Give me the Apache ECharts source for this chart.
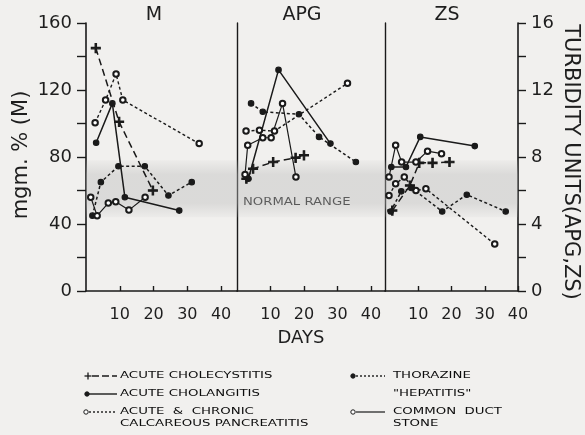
<!DOCTYPE html>
<html>
<head>
<meta charset="utf-8">
<script src="https://cdn.jsdelivr.net/npm/echarts@6/dist/echarts.min.js"></script>
<style>
  html, body { margin: 0; padding: 0; background: #f1f0ee; }
  #chart { width: 585px; height: 435px; }
</style>
</head>
<body>
<div id="chart"></div>
<script>
// Tick values
const dayTicks = [10, 20, 30, 40];
const panelTitles = ['M', 'APG', 'ZS'];
const normalRangeM = [44, 78];       // mgm. %
const normalRangeT = [4.4, 7.8];     // turbidity units

// M panel (mgm. %) — [day, value]
const cholecystitisM = [[2.9, 145], [9.8, 101], [19.8, 60]];
const cholangitisM   = [[3.0, 88.5], [7.8, 112], [11.5, 56], [27.6, 48]];
const pancreatitisM  = [[2.7, 100.5], [5.8, 114], [8.9, 129.5], [10.9, 114], [33.5, 88]];
const thorazineM     = [[1.9, 45], [4.4, 65], [9.6, 74.5], [17.4, 74.5], [24.4, 57], [31.3, 65]];
const ductStoneM     = [[1.4, 56], [3.3, 45], [6.6, 52.5], [8.8, 53.3], [12.7, 48.3], [17.5, 56]];

// APG panel (turbidity units)
const cholecystitisAPG = [[2.8, 6.7], [4.8, 7.3], [10.8, 7.7], [17.5, 7.95], [20, 8.1]];
const cholangitisAPG   = [[3.4, 6.7], [12.4, 13.2], [27.9, 8.8]];
const pancreatitisAPG  = [[2.7, 9.55], [6.7, 9.6], [11.2, 9.55], [33, 12.4]];
const thorazineAPG     = [[4.2, 11.2], [7.7, 10.7], [18.5, 10.55], [24.5, 9.2], [35.5, 7.7]];
const ductStoneAPG     = [[2.4, 6.95], [3.2, 8.7], [7.7, 9.15], [10.2, 9.15], [13.6, 11.2], [17.6, 6.8]];

// ZS panel (turbidity units)
const cholecystitisZS = [[2.2, 4.8], [7.5, 6.3], [10.3, 7.65], [14.3, 7.65], [19.4, 7.7]];
const cholangitisZS   = [[1.9, 7.4], [6.3, 7.4], [10.6, 9.2], [27, 8.65]];
const pancreatitisZS  = [[1.2, 5.7], [3.2, 6.4], [5.8, 6.8], [9.3, 6.0], [12.3, 6.1], [33, 2.8]];
const thorazineZS     = [[1.7, 4.75], [4.9, 5.95], [8.0, 6.15], [17.2, 4.75], [24.6, 5.75], [36.3, 4.75]];
const ductStoneZS     = [[1.2, 6.8], [3.2, 8.7], [5.0, 7.7], [9.3, 7.7], [12.8, 8.35], [17, 8.2]];

const FONT = 'DejaVu Sans';
const INK = '#1a1a1a';
const PLUS = 'path://M-0.16,-1H0.16V-0.16H1V0.16H0.16V1H-0.16V0.16H-1V-0.16H-0.16Z';

const styles = {
  cholecystitis: { symbol: PLUS, symbolSize: 9, type: [7, 4], width: 1.5, fill: INK },
  cholangitis:   { symbol: 'circle', symbolSize: 5.5, type: 'solid', width: 1.5, fill: INK },
  pancreatitis:  { symbol: 'emptyCircle', symbolSize: 5.5, type: [3, 2.5], width: 1.4, fill: INK },
  thorazine:     { symbol: 'circle', symbolSize: 5.5, type: [3, 2.5], width: 1.5, fill: INK },
  ductStone:     { symbol: 'emptyCircle', symbolSize: 5.5, type: 'solid', width: 1.2, fill: INK }
};

const panels = [
  { xi: 0, yi: 0, band: normalRangeM, data: { cholecystitis: cholecystitisM, cholangitis: cholangitisM, pancreatitis: pancreatitisM, thorazine: thorazineM, ductStone: ductStoneM } },
  { xi: 1, yi: 1, band: normalRangeT, data: { cholecystitis: cholecystitisAPG, cholangitis: cholangitisAPG, pancreatitis: pancreatitisAPG, thorazine: thorazineAPG, ductStone: ductStoneAPG } },
  { xi: 2, yi: 3, band: normalRangeT, data: { cholecystitis: cholecystitisZS, cholangitis: cholangitisZS, pancreatitis: pancreatitisZS, thorazine: thorazineZS, ductStone: ductStoneZS } }
];

const bandFill = {
  type: 'linear', x: 0, y: 0, x2: 0, y2: 1,
  colorStops: [
    { offset: 0, color: 'rgba(185,185,185,0.08)' },
    { offset: 0.25, color: 'rgba(185,185,185,0.4)' },
    { offset: 0.75, color: 'rgba(185,185,185,0.4)' },
    { offset: 1, color: 'rgba(185,185,185,0.08)' }
  ]
};

const series = [];
panels.forEach(function (p) {
  // normal range band
  series.push({
    type: 'line', xAxisIndex: p.xi, yAxisIndex: p.yi, data: [], silent: true,
    markArea: { silent: true, itemStyle: { color: bandFill }, data: [[{ yAxis: p.band[0] }, { yAxis: p.band[1] }]] }
  });
  Object.keys(p.data).forEach(function (k) {
    const s = styles[k];
    series.push({
      name: k, type: 'line', xAxisIndex: p.xi, yAxisIndex: p.yi,
      data: p.data[k], symbol: s.symbol, symbolSize: s.symbolSize, showAllSymbol: true,
      lineStyle: { color: INK, width: s.width, type: s.type },
      itemStyle: { color: s.fill, borderColor: INK, borderWidth: 1.1 },
      animation: false, z: 3
    });
  });
});

function xAxisFor(i, max) {
  return {
    type: 'value', gridIndex: i, min: 0, max: max, interval: 10,
    axisLine: { show: true, onZero: false, lineStyle: { color: INK, width: 1.6 } },
    axisTick: { show: true, inside: true, length: 5, customValues: dayTicks, lineStyle: { color: INK, width: 1.4 } },
    axisLabel: { customValues: dayTicks, fontFamily: FONT, fontSize: 16, color: '#1e1e1e', margin: 16 },
    splitLine: { show: false }
  };
}

const lineOnlyY = function (grid) {
  return {
    type: 'value', gridIndex: grid, min: 0, max: 16, interval: 2,
    axisLine: { show: true, onZero: false, lineStyle: { color: INK, width: 1.4 } },
    axisTick: { show: false }, axisLabel: { show: false }, splitLine: { show: false }
  };
};

const option = {
  backgroundColor: '#f1f0ee',
  animation: false,
  grid: [
    { left: 86, top: 23, width: 151, height: 268 },
    { left: 237, top: 23, width: 148, height: 268 },
    { left: 385, top: 23, width: 133, height: 268 }
  ],
  xAxis: [xAxisFor(0, 44.7), xAxisFor(1, 44.2), xAxisFor(2, 40)],
  yAxis: [
    {
      type: 'value', gridIndex: 0, min: 0, max: 160, interval: 20,
      axisLine: { show: true, onZero: false, lineStyle: { color: INK, width: 1.6 } },
      axisTick: { show: true, length: 9, lineStyle: { color: INK, width: 1.4 } },
      axisLabel: { fontFamily: FONT, fontSize: 18, color: '#1e1e1e', margin: 14,
        formatter: function (v) { return v % 40 === 0 ? String(v) : ''; } },
      splitLine: { show: false }
    },
    lineOnlyY(1),
    lineOnlyY(2),
    {
      type: 'value', gridIndex: 2, position: 'right', min: 0, max: 16, interval: 2,
      axisLine: { show: true, onZero: false, lineStyle: { color: INK, width: 1.6 } },
      axisTick: { show: true, length: 8, lineStyle: { color: INK, width: 1.4 } },
      axisLabel: { fontFamily: FONT, fontSize: 18, color: '#1e1e1e', margin: 13,
        formatter: function (v) { return v % 4 === 0 ? String(v) : ''; } },
      splitLine: { show: false }
    }
  ],
  series: series
};

// Titles, axis names and key
const txt = function (x, y, text, size, extra) {
  return Object.assign({
    type: 'text', x: x, y: y, silent: true,
    style: { text: text, fontFamily: FONT, fontSize: size, fill: '#1e1e1e', align: 'center', verticalAlign: 'middle' }
  }, extra || {});
};
const keyText = function (x, y, text) {
  return {
    type: 'text', x: x, y: y, scaleX: 1.4, silent: true,
    style: { text: text, fontFamily: FONT, fontSize: 9.5, fill: '#0d0d0d', align: 'left', verticalAlign: 'middle' }
  };
};
const keyLine = function (x1, x2, y, dash, w) {
  return { type: 'line', silent: true, shape: { x1: x1, y1: y, x2: x2, y2: y }, style: { stroke: INK, lineWidth: w || 1.4, lineDash: dash } };
};
const keyDot = function (x, y, filled) {
  return { type: 'circle', silent: true, shape: { cx: x, cy: y, r: 2.2 }, style: { fill: filled ? INK : '#fff', stroke: INK, lineWidth: 1 } };
};
const keyPlus = function (x, y) {
  return { type: 'group', silent: true, children: [
    { type: 'line', shape: { x1: x - 3.5, y1: y, x2: x + 3.5, y2: y }, style: { stroke: INK, lineWidth: 1.3 } },
    { type: 'line', shape: { x1: x, y1: y - 3.5, x2: x, y2: y + 3.5 }, style: { stroke: INK, lineWidth: 1.3 } }
  ] };
};

option.graphic = [
  txt(154, 15, panelTitles[0], 19),
  txt(302, 15, panelTitles[1], 19),
  txt(447, 15, panelTitles[2], 19),
  txt(301, 338, 'DAYS', 18),
  txt(22, 155, 'mgm. % (M)', 21, { rotation: Math.PI / 2 }),
  txt(570, 162, 'TURBIDITY UNITS(APG,ZS)', 21, { rotation: -Math.PI / 2 }),
  { type: 'text', x: 243, y: 202, scaleX: 1.2, silent: true,
    style: { text: 'NORMAL RANGE', fontFamily: FONT, fontSize: 11, fill: '#1e1e1e', align: 'left', verticalAlign: 'middle' } },

  keyPlus(88, 376), keyLine(92, 117, 376, [7, 3]), keyText(120, 376, 'ACUTE CHOLECYSTITIS'),
  keyDot(87, 394, true), keyLine(89, 117, 394, null), keyText(120, 394, 'ACUTE CHOLANGITIS'),
  keyDot(86, 412, false), keyLine(89, 117, 412, [2, 2]), keyText(120, 412, 'ACUTE  &  CHRONIC'),
  keyText(120, 423.5, 'CALCAREOUS PANCREATITIS'),
  keyDot(353, 376, true), keyLine(356, 385, 376, [2, 2]), keyText(393, 376, 'THORAZINE'),
  keyText(393, 394, '"HEPATITIS"'),
  keyDot(353, 412, false), keyLine(356, 385, 412, null, 1.2), keyText(393, 412, 'COMMON  DUCT'),
  keyText(393, 423.5, 'STONE')
];

const chart = echarts.init(document.getElementById('chart'), null, { renderer: 'canvas' });
chart.setOption(option);
</script>
</body>
</html>
